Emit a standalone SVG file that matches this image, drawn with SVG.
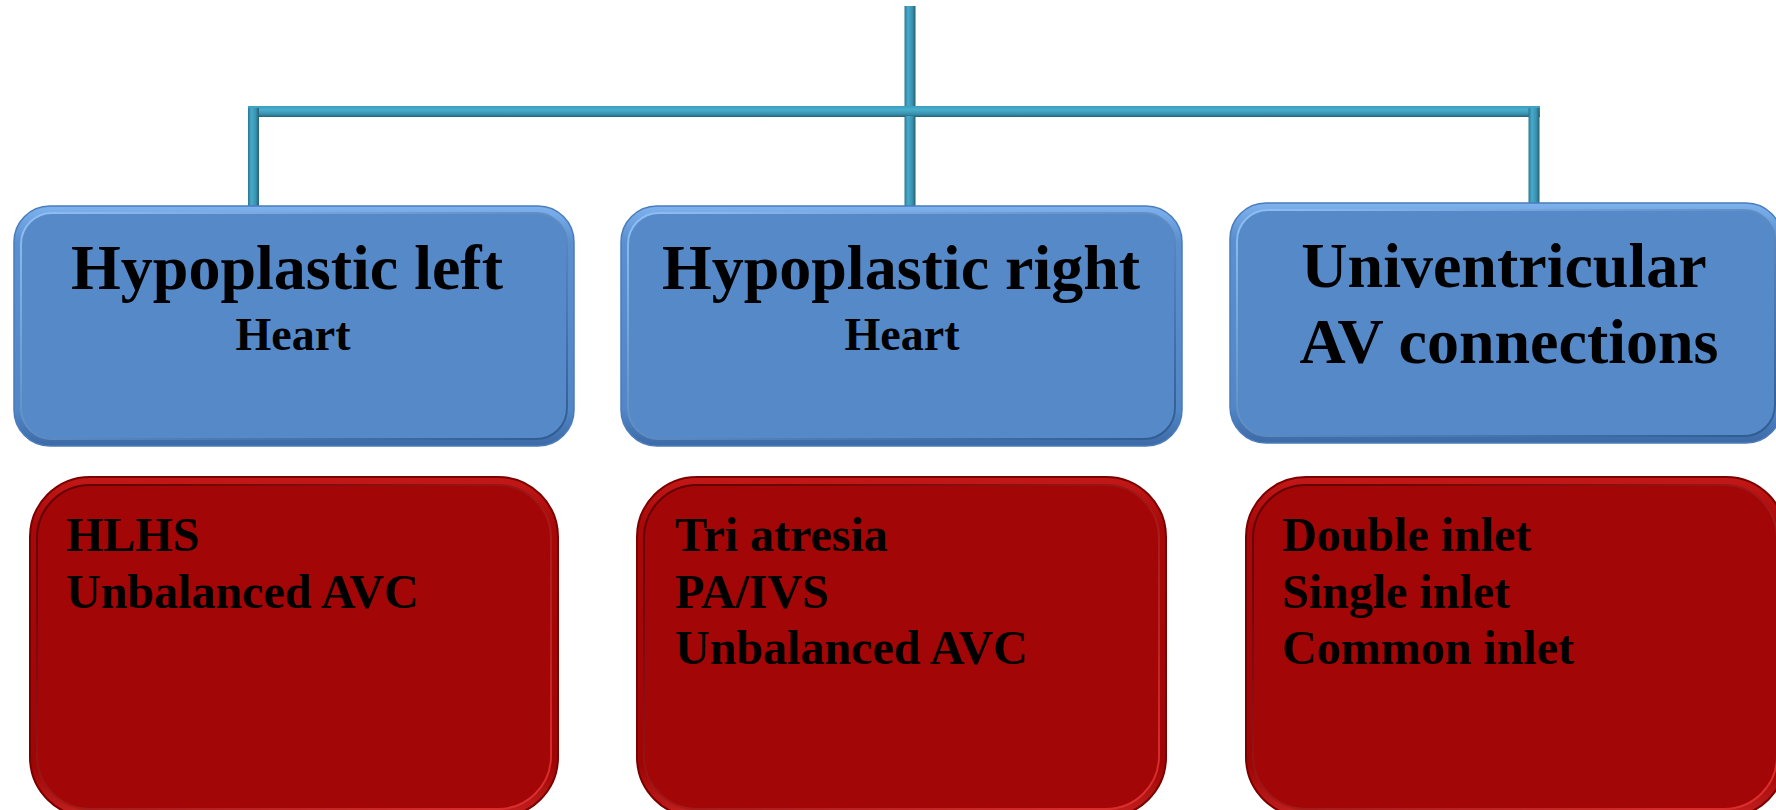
<svg xmlns="http://www.w3.org/2000/svg" width="1776" height="810" viewBox="0 0 1776 810">
<defs>
<linearGradient id="tubeV" x1="0" y1="0" x2="1" y2="0">
<stop offset="0" stop-color="#2b7590"/><stop offset="0.3" stop-color="#47abc9"/><stop offset="0.7" stop-color="#3893b1"/><stop offset="1" stop-color="#255f74"/>
</linearGradient>
<linearGradient id="tubeH" x1="0" y1="0" x2="0" y2="1">
<stop offset="0" stop-color="#3a9fbf"/><stop offset="0.35" stop-color="#49aecb"/><stop offset="0.75" stop-color="#3690ad"/><stop offset="1" stop-color="#255f74"/>
</linearGradient>
<linearGradient id="blueRim" x1="0" y1="0" x2="0" y2="1">
<stop offset="0" stop-color="#7db2ee"/><stop offset="0.15" stop-color="#5b8fd0"/><stop offset="0.85" stop-color="#5286c6"/><stop offset="1" stop-color="#3c6aa6"/>
</linearGradient>
<linearGradient id="redRim" x1="0" y1="0" x2="0" y2="1">
<stop offset="0" stop-color="#c41818"/><stop offset="0.15" stop-color="#a80808"/><stop offset="0.85" stop-color="#a00505"/><stop offset="1" stop-color="#c42020"/>
</linearGradient>
<linearGradient id="blueInner" x1="0" y1="0" x2="1" y2="1">
<stop offset="0" stop-color="#8fbff4"/><stop offset="1" stop-color="#2e5a90"/>
</linearGradient>
<linearGradient id="redInner" x1="0" y1="0" x2="1" y2="1">
<stop offset="0" stop-color="#5a0000"/><stop offset="1" stop-color="#e03030"/>
</linearGradient>
</defs>
<style>
.bo{fill:url(#blueRim);stroke:#4a7cbc;stroke-width:1.5}
.bi{fill:#5589c8;stroke:url(#blueInner);stroke-width:2}
.ro{fill:url(#redRim);stroke:#7a0000;stroke-width:2}
.ri{fill:#a30606;stroke:url(#redInner);stroke-width:2}
.t{font-family:"Liberation Serif","Times New Roman",serif;font-weight:bold;fill:#000}
.big{font-size:64px;text-anchor:middle}
.mid{font-size:46px;text-anchor:middle}
.lst{font-size:48px}
</style>
<g id="connectors">
<rect x="904.5" y="6" width="11" height="104" fill="url(#tubeV)"/>
<rect x="248" y="106" width="1292" height="11" fill="url(#tubeH)"/>
<rect x="248" y="108" width="11" height="98" fill="url(#tubeV)"/>
<rect x="904.5" y="116" width="11" height="90" fill="url(#tubeV)"/>
<rect x="1528.5" y="108" width="11" height="95" fill="url(#tubeV)"/>
</g>
<g id="node-hlh">
<rect class="bo" x="14" y="206" width="560" height="240" rx="36"/>
<rect class="bi" x="21" y="213" width="546" height="226" rx="31"/>
<text class="t big" x="287" y="289">Hypoplastic left</text>
<text class="t mid" x="293" y="350">Heart</text>
</g>
<g id="node-hrh">
<rect class="bo" x="621" y="206" width="561" height="240" rx="36"/>
<rect class="bi" x="628" y="213" width="547" height="226" rx="31"/>
<text class="t big" x="901" y="289">Hypoplastic right</text>
<text class="t mid" x="902" y="350">Heart</text>
</g>
<g id="node-uv">
<rect class="bo" x="1230" y="203" width="552" height="240" rx="36"/>
<rect class="bi" x="1237" y="210" width="538" height="226" rx="31"/>
<text class="t big" x="1504" y="287">Univentricular</text>
<text class="t big" x="1509" y="363">AV connections</text>
</g>
<g id="list-hlh">
<rect class="ro" x="30" y="477" width="528" height="340" rx="60"/>
<rect class="ri" x="37" y="485" width="514" height="324" rx="53"/>
<text class="t lst" x="66" y="551">HLHS</text>
<text class="t lst" x="66" y="608">Unbalanced AVC</text>
</g>
<g id="list-hrh">
<rect class="ro" x="637" y="477" width="529" height="340" rx="60"/>
<rect class="ri" x="644" y="485" width="515" height="324" rx="53"/>
<text class="t lst" x="675" y="551">Tri atresia</text>
<text class="t lst" x="675" y="608">PA/IVS</text>
<text class="t lst" x="675" y="664">Unbalanced AVC</text>
</g>
<g id="list-uv">
<rect class="ro" x="1246" y="477" width="540" height="340" rx="60"/>
<rect class="ri" x="1253" y="485" width="524" height="324" rx="53"/>
<text class="t lst" x="1282" y="551">Double inlet</text>
<text class="t lst" x="1282" y="608">Single inlet</text>
<text class="t lst" x="1282" y="664">Common inlet</text>
</g>
</svg>
